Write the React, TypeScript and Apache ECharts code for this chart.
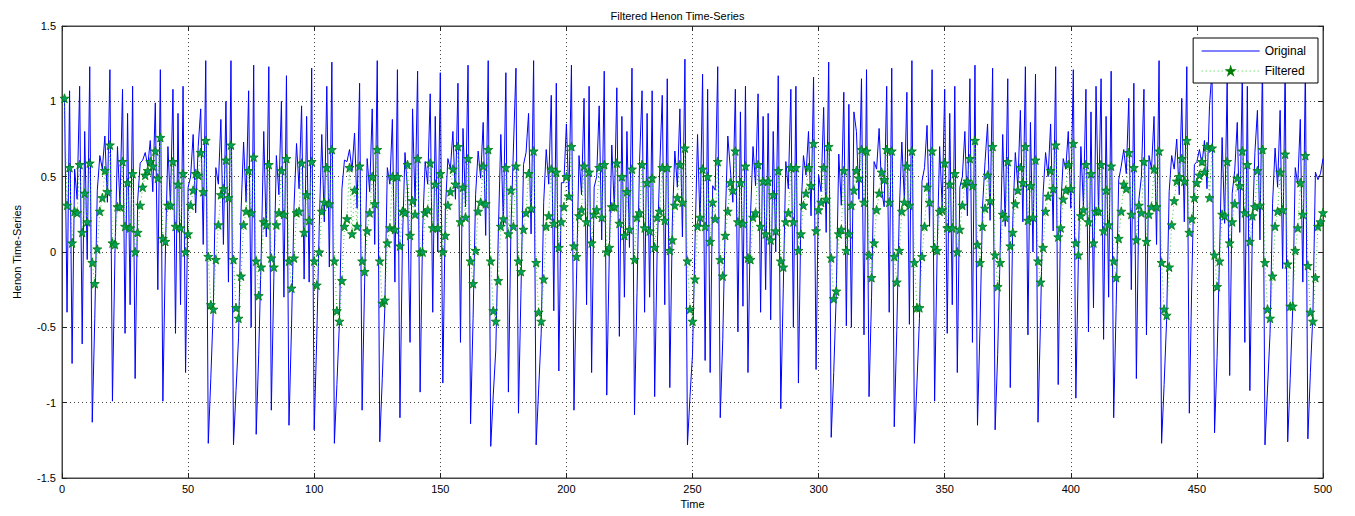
import React, { useEffect, useRef } from "react";
import * as echarts from "echarts";

// ---- Original series (Henon time series), t = 1..500 ----
const orig1 = [1.02,-0.40,1.07,-0.74,0.55,0.35,1.10,-0.61,0.80,-0.05,1.23,-1.13,-0.44,0.41,0.64,0.55,0.77,0.33,1.21,-0.99,-0.01,0.70,0.31,1.08,-0.54,0.92,-0.35,1.10,-0.84,0.34,0.59,0.61,0.66,0.57,0.74,0.40,0.99,-0.25,1.21,-0.99,0.00,0.70,0.31,1.08,-0.54,0.92];
const orig2 = [-0.35,1.10,-0.80,0.43,0.50,0.78,0.26,0.70,0.95,0.05,1.27,-1.27,-0.84,-0.37,0.56,0.45,0.88,0.05,1.00,-0.20,1.27,-1.28,-0.92,-0.57,0.27,0.73,0.33,1.07,-0.50,1.24,-1.21,-0.68,-0.01,0.80,0.10,1.23,-1.05,-0.17,0.64,0.38,1.00,-0.30,1.17,-1.15,-0.50];
const orig3 = [0.30,0.72,0.42,0.97,-0.18,0.90,-0.20,1.22,-1.18,-0.58,0.17,0.78,0.20,1.10,-0.10,1.26,-1.27,-0.88,-0.47,0.42,0.61,0.60,0.68,0.54,0.79,0.29,1.12,-1.05,-0.20,0.62,0.40,0.95,0.05,1.27,-1.26,-0.84,-0.37,0.56,0.45,0.88,-0.20,1.21,-1.10,0.08,0.66,0.41];
const orig4 = [-0.60,0.95,0.30,1.20,-0.93,0.15,0.60,0.45,1.05,-0.40,0.90,0.00,1.19,-0.87,0.28,0.62,0.55,0.80,0.35,1.12,-0.60,0.82,0.30,1.24,-1.14,-0.44,0.38,0.67,0.49,0.86,0.11,1.27,-1.29,-0.95,-0.65,0.12,0.78,0.18,1.19,-0.93,0.15,0.69,1.22,-1.07,-0.25];
const orig5 = [0.58,0.66,0.92,0.12,1.27,-1.28,-0.91,-0.54,0.33,0.68,0.45,1.04,-0.39,1.12,-0.79,0.46,0.46,0.85,0.35,1.24,-1.05,-0.18,0.64,0.38,1.02,-0.35,1.10,-0.80,0.43,0.50,0.97,0.08,1.20,-0.95,-0.02,0.71,0.28,1.09,-0.56,0.90,-0.30,0.80,0.03,1.22,-1.08,-0.27];
const orig6 = [0.60,1.07,-0.40,0.92,-0.30,1.07,-0.96,0.02,0.55,1.04,-0.35,1.15,-0.90,0.20,0.67,0.43,0.95,0.10,1.28,-1.28,-0.96,-0.68,0.07,0.78,0.17,1.18,-0.72,1.08,-0.80,0.44,0.41,1.23,-1.10,-0.58,0.21,0.77,0.55,0.33,1.08,-0.53,0.93,-0.36,1.10,-0.80];
const orig7 = [0.24,0.70,0.44,1.05,-0.40,0.90,-0.25,0.92,-0.45,0.80,0.00,1.17,-1.04,-0.24,0.60,0.42,1.08,-0.50,1.10,-0.87,0.26,0.64,0.51,0.80,0.24,1.16,-0.78,0.51,0.40,0.96,0.13,1.26,-1.23,-0.80,-0.28,0.65,0.31,1.06,-0.49,0.98,-0.50,0.93,0.80,0.35,1.15,-0.55];
const orig8 = [1.21,-0.96,-0.30,0.60,0.55,0.82,0.41,0.30,1.10,-0.40,1.22,-1.16,-0.52,0.27,0.73,0.34,1.06,-0.48,1.27,-1.27,-0.87,-0.44,0.47,0.56,0.84,0.17,1.21,-0.99,0.00,0.70,0.30,1.08,-0.54,0.92,-0.35,1.10,-0.80,0.43,0.50,0.80,0.24,1.15,-0.60,1.24,-1.15,-0.50];
const orig9 = [0.30,0.60,0.85,0.21,1.22,-1.18,-0.68,0.01,0.78,0.17,1.15,-0.90,0.21,0.66,0.43,0.94,0.20,1.23,-0.55,0.86,0.00,1.18,-1.13,-0.45,0.38,0.66,0.50,0.85,0.14,1.23,-0.88,0.28,0.62,0.55,0.80,0.29,1.21,-0.97,-0.05,0.70,0.30,1.08,-0.53,0.93,-0.37];
const orig10 = [1.10,0.25,1.15,-0.58,0.90,-0.30,1.20,-1.10,-0.35,0.48,0.57,0.68,0.52,1.02,-0.25,1.12,-0.84,0.35,0.50,1.08,-0.55,0.64,0.55,0.90,0.05,1.27,-1.27,-0.88,-0.45,0.40,0.64,0.55,0.75,0.38,1.02,0.20,1.23,-1.07,-0.18,0.58,0.60,0.68,0.58,0.74,0.42,0.97];
const orig11 = [1.21,-1.20,-0.70,0.00,0.76,0.19,1.13,-0.82,0.39,0.54,0.86,0.13,1.20,-0.60,1.10,-0.92,0.15,0.66,0.94,0.08,1.27,-1.28,-0.91,-0.54,0.32,0.69,0.43,0.94,-0.11,1.26,-1.26,-0.84,-0.37,0.56,0.45,0.88,-0.20,1.25,-1.24,-0.80,-0.41,0.53,0.48,0.52,0.62];

// ---- Filtered series (green stars), t = 1..500 ----
const filt1 = [1.02,0.31,0.56,0.06,0.27,0.26,0.58,0.13,0.39,0.20,0.59,-0.07,-0.21,0.02,0.27,0.36,0.54,0.40,0.71,0.06,0.05,0.30,0.30,0.60,0.17,0.46,0.16,0.52,0.00,0.13,0.31,0.43,0.51,0.54,0.60,0.57,0.67,0.49,0.76,0.09,0.07,0.31,0.31,0.60,0.17,0.45];
const filt2 = [0.16,0.52,0.00,0.12,0.31,0.41,0.52,0.51,0.66,0.40,0.74,-0.03,-0.35,-0.38,-0.05,0.18,0.38,0.42,0.61,0.36,0.71,-0.05,-0.37,-0.44,-0.16,0.18,0.27,0.54,0.26,0.63,-0.06,-0.29,-0.10,0.20,0.18,0.58,-0.04,-0.10,0.18,0.26,0.54,0.25,0.62,-0.06,-0.24];
const filt3 = [-0.04,0.26,0.27,0.59,0.13,0.38,0.21,0.60,-0.06,-0.22,0.00,0.27,0.33,0.56,0.32,0.68,-0.06,-0.39,-0.46,-0.19,0.17,0.22,0.56,0.12,0.41,0.17,0.57,-0.06,-0.13,0.14,0.26,0.50,0.32,0.68,-0.06,-0.34,-0.32,0.06,0.16,0.50,0.15,0.50,0.04,0.27,0.26,0.58];
const filt4 = [0.11,0.34,0.25,0.62,0.00,0.00,0.26,0.28,0.59,0.16,0.45,0.16,0.52,0.00,0.11,0.31,0.40,0.55,0.45,0.70,0.20,0.43,0.23,0.62,-0.06,-0.21,0.01,0.27,0.33,0.57,0.32,0.68,-0.06,-0.39,-0.46,-0.19,0.17,0.22,0.56,0.12,0.41,0.17,0.57,-0.06,-0.13];
const filt5 = [0.15,0.26,0.52,0.29,0.67,-0.07,-0.40,-0.46,-0.18,0.17,0.24,0.55,0.19,0.53,0.03,0.20,0.30,0.50,0.37,0.70,0.04,-0.03,0.24,0.28,0.57,0.20,0.53,0.06,0.25,0.28,0.56,0.23,0.58,0.00,0.03,0.30,0.30,0.59,0.19,0.50,0.11,0.40,0.15,0.55,-0.05,0.23];
const filt6 = [0.26,0.58,0.16,0.46,0.14,0.49,0.03,0.23,0.27,0.56,0.21,0.56,0.01,0.08,0.31,0.36,0.58,0.33,0.69,-0.06,-0.38,-0.46,-0.18,0.17,0.23,0.55,0.17,0.50,0.07,0.33,0.22,0.60,-0.05,-0.16,0.11,0.27,0.46,0.41,0.67,0.20,0.46,0.19,0.57,-0.04];
const filt7 = [-0.05,0.23,0.26,0.58,0.17,0.47,0.12,0.47,0.08,0.38,0.14,0.54,-0.06,-0.10,0.20,0.26,0.56,0.20,0.56,0.01,0.12,0.31,0.39,0.56,0.44,0.72,0.14,0.28,0.33,0.56,0.35,0.70,-0.04,-0.31,-0.26,0.12,0.15,0.54,0.01,0.12,0.31,0.41,0.54,0.49,0.68,0.33];
const filt8 = [0.67,-0.02,-0.17,0.06,0.28,0.39,0.53,0.48,0.68,0.33,0.67,-0.03,-0.20,0.01,0.27,0.33,0.57,0.31,0.67,-0.07,-0.37,-0.37,-0.03,0.17,0.43,0.33,0.67,0.03,0.01,0.27,0.28,0.59,0.16,0.45,0.16,0.52,0.00,0.15,0.31,0.45,0.47,0.62,0.44,0.74,0.05,-0.07];
const filt9 = [0.17,0.29,0.51,0.34,0.70,-0.02,-0.23,-0.07,0.25,0.23,0.60,0.04,0.13,0.32,0.41,0.56,0.46,0.70,0.21,0.44,0.23,0.61,-0.06,-0.20,0.03,0.27,0.37,0.54,0.42,0.71,0.10,0.16,0.35,0.41,0.58,0.42,0.72,0.06,-0.02,0.24,0.28,0.58,0.20,0.52,0.06];
const filt10 = [0.27,0.27,0.58,0.14,0.41,0.18,0.57,-0.06,-0.17,0.09,0.27,0.45,0.42,0.66,0.25,0.56,0.08,0.31,0.26,0.60,0.07,0.25,0.30,0.55,0.30,0.67,-0.07,-0.38,-0.42,-0.10,0.18,0.34,0.47,0.50,0.62,0.47,0.74,0.13,0.22,0.36,0.46,0.51,0.60,0.53,0.70,0.36];
const filt11 = [0.69,-0.02,-0.23,-0.06,0.25,0.24,0.60,0.06,0.20,0.32,0.49,0.44,0.67,0.26,0.58,0.07,0.24,0.30,0.54,0.31,0.68,-0.07,-0.38,-0.44,-0.16,0.17,0.27,0.53,0.28,0.65,-0.08,-0.36,-0.36,0.01,0.16,0.46,0.25,0.64,-0.09,-0.40,-0.46,-0.17,0.17,0.20,0.26];

const original = [...orig1, ...orig2, ...orig3, ...orig4, ...orig5, ...orig6, ...orig7, ...orig8, ...orig9, ...orig10, ...orig11];
const filtered = [...filt1, ...filt2, ...filt3, ...filt4, ...filt5, ...filt6, ...filt7, ...filt8, ...filt9, ...filt10, ...filt11];

const FONT = 'Arial, "Liberation Sans", Helvetica, sans-serif';
const STAR = "path://M0,-10L2.35,-3.24L9.51,-3.09L3.8,1.24L5.88,8.09L0,4L-5.88,8.09L-3.8,1.24L-9.51,-3.09L-2.35,-3.24Z";

export default function App() {
  const ref = useRef<HTMLDivElement>(null);
  useEffect(() => {
    if (!ref.current) return;
    const chart = echarts.init(ref.current, null, { renderer: "svg" });
    const gridLine = { show: true, lineStyle: { color: "#444", type: [1, 3], width: 1 } };
    const axisLine = { show: true, onZero: false, lineStyle: { color: "#444", width: 1 } };
    const tick = { show: true, inside: true, length: 5, lineStyle: { color: "#222" } };
    chart.setOption({
      animation: false,
      backgroundColor: "#fff",
      title: {
        text: "Filtered Henon Time-Series",
        left: "center",
        top: 5,
        textStyle: { fontSize: 11, fontWeight: "normal", color: "#000", fontFamily: FONT },
      },
      legend: {
        orient: "vertical",
        right: 37,
        top: 38,
        backgroundColor: "#fff",
        borderColor: "#000",
        borderWidth: 1,
        padding: [7, 12, 6, 8],
        itemGap: 8,
        itemWidth: 58,
        itemHeight: 8,
        textStyle: { fontSize: 12, color: "#000", fontFamily: FONT },
        data: [
          { name: "Original", itemStyle: { opacity: 0 }, lineStyle: { width: 1 } },
          { name: "Filtered", lineStyle: { width: 1 } },
        ],
      },
      grid: { left: 62, right: 32, top: 26, bottom: 38, show: true, borderColor: "#444", borderWidth: 1, backgroundColor: "#fff" },
      xAxis: [
        {
          type: "value", min: 0, max: 500, interval: 50,
          name: "Time", nameLocation: "middle", nameGap: 20,
          nameTextStyle: { fontSize: 11, color: "#000", fontFamily: FONT },
          axisLine, axisTick: tick, splitLine: gridLine,
          axisLabel: { fontSize: 11, color: "#000", fontFamily: FONT, margin: 5 },
        },
        {
          type: "value", min: 0, max: 500, interval: 50, position: "top",
          axisLine, axisTick: tick, splitLine: { show: false }, axisLabel: { show: false },
        },
      ],
      yAxis: [
        {
          type: "value", min: -1.5, max: 1.5, interval: 0.5,
          name: "Henon Time-Series", nameLocation: "middle", nameGap: 40, nameRotate: 90,
          nameTextStyle: { fontSize: 11, color: "#000", fontFamily: FONT },
          axisLine, axisTick: tick, splitLine: gridLine,
          axisLabel: { fontSize: 11, color: "#000", fontFamily: FONT, margin: 6 },
        },
        {
          type: "value", min: -1.5, max: 1.5, interval: 0.5, position: "right",
          axisLine, axisTick: tick, splitLine: { show: false }, axisLabel: { show: false },
        },
      ],
      series: [
        {
          name: "Original",
          type: "line",
          data: original.map((v, i) => [i + 1, v]),
          symbol: "none",
          lineStyle: { color: "#0000ff", width: 1 },
          itemStyle: { color: "#0000ff" },
          clip: true,
          z: 2,
        },
        {
          name: "Filtered",
          type: "line",
          data: filtered.map((v, i) => [i + 1, v]),
          symbol: STAR,
          symbolSize: 9,
          showAllSymbol: true,
          lineStyle: { color: "#33c833", width: 1, type: [1, 3] },
          itemStyle: { color: "#00a060", borderColor: "#007a00", borderWidth: 0.8 },
          clip: true,
          z: 3,
        },
      ],
    });
    return () => chart.dispose();
  }, []);
  return <div ref={ref} style={{ position: "fixed", left: 0, top: 0, width: 1355, height: 516 }} />;
}
